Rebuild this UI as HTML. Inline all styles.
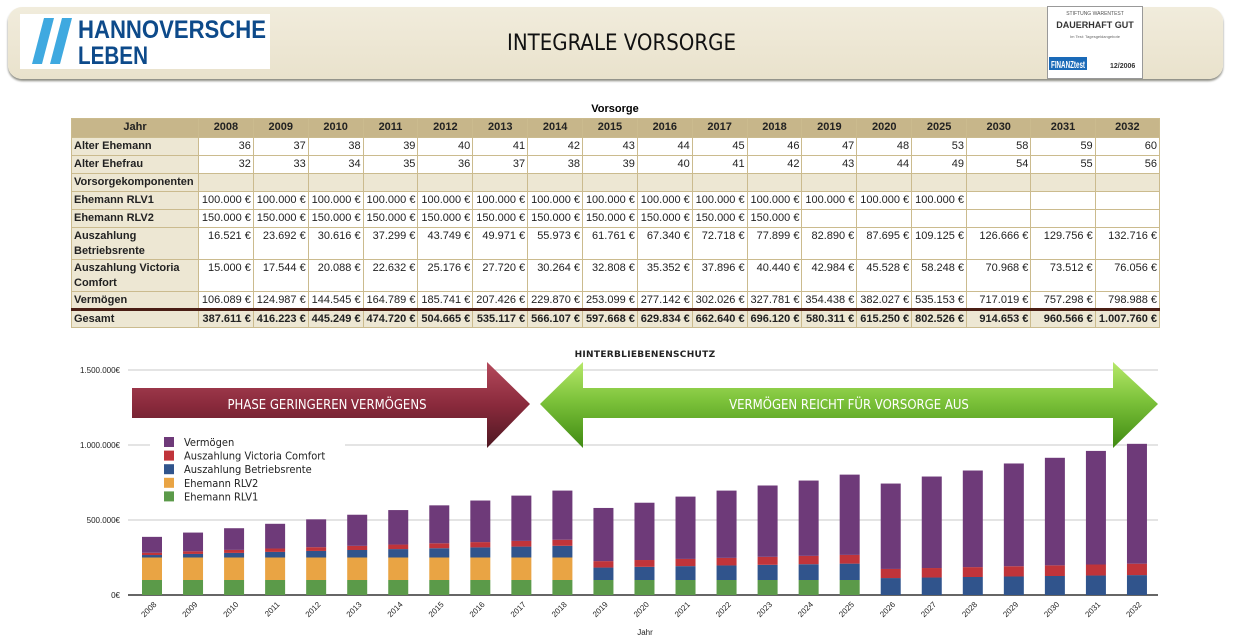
<!DOCTYPE html>
<html><head><meta charset="utf-8"><style>
*{margin:0;padding:0;box-sizing:border-box}
body{width:1243px;height:637px;background:#fff;position:relative;overflow:hidden;font-family:"Liberation Sans",sans-serif}
#hdr{position:absolute;left:8px;top:7px;width:1215px;height:72px;background:linear-gradient(#f1ecdc,#e9e2cc);border-radius:14px;box-shadow:0 2px 2px #8a8a80}
#logo{position:absolute;left:20px;top:14px;width:250px;height:55px;background:#fff}
#title{position:absolute;left:0;width:1243px;top:31px;text-align:center;font-size:22px;color:#111;font-family:"DejaVu Sans Condensed","Liberation Sans",sans-serif}
#badge{position:absolute;left:1047px;top:6px;width:96px;height:73px;background:#fff;border:1px solid #999}
#tcap{position:absolute;left:0;width:1230px;top:103px;text-align:center;font-size:11px;font-weight:bold}
table{position:absolute;left:71px;top:118px;border-collapse:collapse;table-layout:fixed;width:1088px;font-size:11px;color:#222}
td{border:1px solid #cbbb8e;text-align:right;padding:0 2px;vertical-align:top;height:18px;line-height:16px;white-space:nowrap}
td.l{text-align:left;font-weight:bold;background:#ede7d3;white-space:normal;line-height:15px;padding-top:1px}
tr.h td{background:#c7b68a;text-align:center;font-weight:bold;height:19px}
tr.g td{background:#ede7d3;font-weight:bold;border-top:3px solid #4a1e14}
tr.v td{background:#ede7d3}
</style></head><body>
<div id="hdr"></div>
<div id="logo">
<svg width="250" height="55"><polygon points="12,50 24,4 34,4 22,50" fill="#3fa9e0"/><polygon points="30,50 42,4 52,4 40,50" fill="#3fa9e0"/>
<text x="58" y="24" font-family="Liberation Sans" font-weight="bold" font-size="25" fill="#0d4a8a" textLength="188" lengthAdjust="spacingAndGlyphs">HANNOVERSCHE</text>
<text x="58" y="50" font-family="Liberation Sans" font-weight="bold" font-size="25" fill="#0d4a8a" textLength="70" lengthAdjust="spacingAndGlyphs">LEBEN</text></svg></div>
<div id="title">INTEGRALE VORSORGE</div>
<div id="badge">
<svg width="94" height="71"><text x="47" y="8" font-size="5" text-anchor="middle" fill="#555">STIFTUNG WARENTEST</text>
<text x="47" y="21" font-size="9" font-weight="bold" text-anchor="middle" fill="#333">DAUERHAFT GUT</text>
<text x="47" y="31" font-size="4" text-anchor="middle" fill="#666">Im Test: Tagesgeldangebote</text>
<rect x="1" y="50" width="38" height="13" fill="#1a6ab8"/><text x="3" y="61" font-size="10" font-weight="bold" fill="#fff" textLength="34" lengthAdjust="spacingAndGlyphs">FINANZtest</text>
<text x="62" y="61" font-size="7" font-weight="bold" fill="#333">12/2006</text></svg></div>
<div id="tcap">Vorsorge</div>
<table>
<colgroup><col style="width:127px"><col span="14" style="width:54.86px"><col span="3" style="width:64.33px"></colgroup>
<tr class="h"><td>Jahr</td><td>2008</td><td>2009</td><td>2010</td><td>2011</td><td>2012</td><td>2013</td><td>2014</td><td>2015</td><td>2016</td><td>2017</td><td>2018</td><td>2019</td><td>2020</td><td>2025</td><td>2030</td><td>2031</td><td>2032</td></tr>
<tr><td class="l">Alter Ehemann</td><td>36</td><td>37</td><td>38</td><td>39</td><td>40</td><td>41</td><td>42</td><td>43</td><td>44</td><td>45</td><td>46</td><td>47</td><td>48</td><td>53</td><td>58</td><td>59</td><td>60</td></tr>
<tr><td class="l">Alter Ehefrau</td><td>32</td><td>33</td><td>34</td><td>35</td><td>36</td><td>37</td><td>38</td><td>39</td><td>40</td><td>41</td><td>42</td><td>43</td><td>44</td><td>49</td><td>54</td><td>55</td><td>56</td></tr>
<tr class="v"><td class="l">Vorsorgekomponenten</td><td></td><td></td><td></td><td></td><td></td><td></td><td></td><td></td><td></td><td></td><td></td><td></td><td></td><td></td><td></td><td></td><td></td></tr>
<tr><td class="l">Ehemann RLV1</td><td>100.000 €</td><td>100.000 €</td><td>100.000 €</td><td>100.000 €</td><td>100.000 €</td><td>100.000 €</td><td>100.000 €</td><td>100.000 €</td><td>100.000 €</td><td>100.000 €</td><td>100.000 €</td><td>100.000 €</td><td>100.000 €</td><td>100.000 €</td><td></td><td></td><td></td></tr>
<tr><td class="l">Ehemann RLV2</td><td>150.000 €</td><td>150.000 €</td><td>150.000 €</td><td>150.000 €</td><td>150.000 €</td><td>150.000 €</td><td>150.000 €</td><td>150.000 €</td><td>150.000 €</td><td>150.000 €</td><td>150.000 €</td><td></td><td></td><td></td><td></td><td></td><td></td></tr>
<tr><td class="l" style="height:32px">Auszahlung Betriebsrente</td><td>16.521 €</td><td>23.692 €</td><td>30.616 €</td><td>37.299 €</td><td>43.749 €</td><td>49.971 €</td><td>55.973 €</td><td>61.761 €</td><td>67.340 €</td><td>72.718 €</td><td>77.899 €</td><td>82.890 €</td><td>87.695 €</td><td>109.125 €</td><td>126.666 €</td><td>129.756 €</td><td>132.716 €</td></tr>
<tr><td class="l" style="height:31px">Auszahlung Victoria Comfort</td><td>15.000 €</td><td>17.544 €</td><td>20.088 €</td><td>22.632 €</td><td>25.176 €</td><td>27.720 €</td><td>30.264 €</td><td>32.808 €</td><td>35.352 €</td><td>37.896 €</td><td>40.440 €</td><td>42.984 €</td><td>45.528 €</td><td>58.248 €</td><td>70.968 €</td><td>73.512 €</td><td>76.056 €</td></tr>
<tr><td class="l">Vermögen</td><td>106.089 €</td><td>124.987 €</td><td>144.545 €</td><td>164.789 €</td><td>185.741 €</td><td>207.426 €</td><td>229.870 €</td><td>253.099 €</td><td>277.142 €</td><td>302.026 €</td><td>327.781 €</td><td>354.438 €</td><td>382.027 €</td><td>535.153 €</td><td>717.019 €</td><td>757.298 €</td><td>798.988 €</td></tr>
<tr class="g"><td class="l" style="border-top:3px solid #4a1e14">Gesamt</td><td>387.611 €</td><td>416.223 €</td><td>445.249 €</td><td>474.720 €</td><td>504.665 €</td><td>535.117 €</td><td>566.107 €</td><td>597.668 €</td><td>629.834 €</td><td>662.640 €</td><td>696.120 €</td><td>580.311 €</td><td>615.250 €</td><td>802.526 €</td><td>914.653 €</td><td>960.566 €</td><td>1.007.760 €</td></tr>
</table>
<svg id="chart" width="1243" height="637" style="position:absolute;left:0;top:0"></svg>
<script>
const years=[2008,2009,2010,2011,2012,2013,2014,2015,2016,2017,2018,2019,2020,2021,2022,2023,2024,2025,2026,2027,2028,2029,2030,2031,2032];
const rlv1=[100,100,100,100,100,100,100,100,100,100,100,100,100,100,100,100,100,100,0,0,0,0,0,0,0];
const rlv2=[150,150,150,150,150,150,150,150,150,150,150,0,0,0,0,0,0,0,0,0,0,0,0,0,0];
const betrieb=[16.5,23.7,30.6,37.3,43.7,50.0,56.0,61.8,67.3,72.7,77.9,82.9,87.7,92.4,96.9,101.2,105.2,109.1,112.9,116.5,120.0,123.4,126.7,129.8,132.7];
const victoria=[15.0,17.5,20.1,22.6,25.2,27.7,30.3,32.8,35.4,37.9,40.4,43.0,45.5,48.1,50.6,53.2,55.7,58.2,60.8,63.3,65.9,68.4,71.0,73.5,76.1];
const vermoegen=[106.1,125.0,144.5,164.8,185.7,207.4,229.9,253.1,277.1,302.0,327.8,354.4,382.0,415.5,448.5,475.6,502.1,535.2,569.3,610,644,685,717.0,757.3,799.0];
const yTicks=[0,500,1000,1500];
const yTickLabels=["0€","500.000€","1.000.000€","1.500.000€"];
const NS="http://www.w3.org/2000/svg";
const svg=document.getElementById('chart');
const y=v=>595-v*0.15;
const x=i=>152+i*41.04;
function mk(t,a,p){const e=document.createElementNS(NS,t);for(const k in a)e.setAttribute(k,a[k]);(p||svg).appendChild(e);return e;}
const defs=mk('defs',{});
defs.innerHTML='<linearGradient id="rg" x1="0" y1="0" x2="0" y2="1"><stop offset="0" stop-color="#b44a5c"/><stop offset="0.5" stop-color="#8a2a3c"/><stop offset="1" stop-color="#4e1822"/></linearGradient><linearGradient id="gg" x1="0" y1="0" x2="0" y2="1"><stop offset="0" stop-color="#b6e86a"/><stop offset="0.45" stop-color="#7cc23a"/><stop offset="1" stop-color="#3f8a12"/></linearGradient>';
yTicks.forEach((t,i)=>{
 const g=mk('line',{x1:128,x2:1158,y1:y(t),y2:y(t),stroke:t===0?'#333':'#c8c8c8','stroke-width':t===0?1.5:1});
 
 
 const l=mk('text',{x:120,y:y(t)+3,'text-anchor':'end','font-size':8,fill:'#222','font-family':'Liberation Sans'});
 l.textContent=yTickLabels[i];
 
 
});
const series=[[rlv1,'#5b9a49','ehemann-rlv1'],[rlv2,'#e9a444','ehemann-rlv2'],[betrieb,'#30548c','betriebsrente'],[victoria,'#c0343a','victoria-comfort'],[vermoegen,'#6e3a79','vermoegen']];
years.forEach((yr,i)=>{
 let base=0;
 series.forEach(s=>{const v=s[0][i];if(v>0){const r=mk('rect',{x:x(i)-10,y:y(base+v),width:20,height:y(base)-y(base+v),fill:s[1]});
 
 }base+=v;});
 const t=mk('text',{'font-size':8,fill:'#222','text-anchor':'end','font-family':'Liberation Sans',transform:`translate(${x(i)+5},${605}) rotate(-45)`});
 t.textContent=yr;
 
 
});
const ra=mk('polygon',{points:'132,388 487,388 487,362 530,404 487,448 487,418 132,418',fill:'url(#rg)'});


const ga=mk('polygon',{points:'540,404 583,362 583,388 1113,388 1113,362 1158,404 1113,448 1113,418 583,418 583,448',fill:'url(#gg)'});


const at1=mk('text',{x:327,y:409,'text-anchor':'middle','font-size':13,fill:'#fff','font-family':'DejaVu Sans Condensed, Liberation Sans, sans-serif'});
at1.textContent='PHASE GERINGEREN VERMÖGENS';


const at2=mk('text',{x:849,y:409,'text-anchor':'middle','font-size':13,fill:'#fff','font-family':'DejaVu Sans Condensed, Liberation Sans, sans-serif'});
at2.textContent='VERMÖGEN REICHT FÜR VORSORGE AUS';


const ct=mk('text',{x:645,y:357,'text-anchor':'middle','font-size':9,'font-weight':'bold',fill:'#222','font-family':'DejaVu Sans, sans-serif','letter-spacing':'0.3'});
ct.textContent='HINTERBLIEBENENSCHUTZ';


const xt=mk('text',{x:645,y:635,'text-anchor':'middle','font-size':8,fill:'#222','font-family':'Liberation Sans'});
xt.textContent='Jahr';


const lg=mk('rect',{x:150,y:430,width:195,height:72,fill:'#fff'});


const legNames=['Vermögen','Auszahlung Victoria Comfort','Auszahlung Betriebsrente','Ehemann RLV2','Ehemann RLV1'];
const legCols=['#6e3a79','#c0343a','#30548c','#e9a444','#5b9a49'];
legNames.forEach((n,i)=>{
 const r=mk('rect',{x:164,y:437+i*13.6,width:10,height:10,fill:legCols[i]});
 
 
 const t=mk('text',{x:184,y:446+i*13.6,'font-size':11,fill:'#222','font-family':'DejaVu Sans Condensed, Liberation Sans, sans-serif'});
 t.textContent=n;
 
 
});
</script>
</body></html>
